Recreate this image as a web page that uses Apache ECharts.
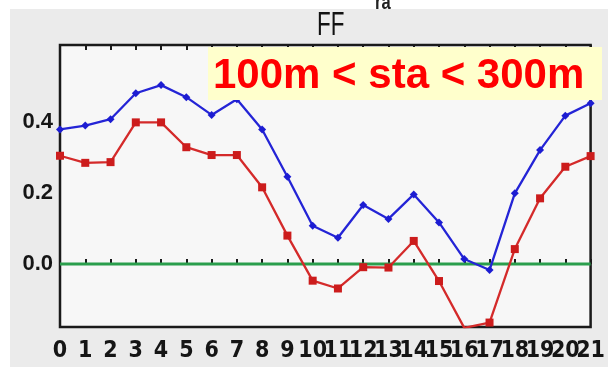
<!DOCTYPE html>
<html>
<head>
<meta charset="utf-8">
<script src="https://cdn.jsdelivr.net/npm/echarts@6/dist/echarts.min.js"></script>
<style>
html,body{margin:0;padding:0;background:#ffffff;}
#bg{position:absolute;left:10px;top:9px;right:0;bottom:0;background:#ebebeb;}
#chart{position:absolute;left:0;top:0;width:608px;height:367px;}
</style>
</head>
<body>
<div id="bg"></div>
<div id="chart"></div>
<script>
// ---- data ----
var hours = ['0','1','2','3','4','5','6','7','8','9','10','11','12','13','14','15','16','17','18','19','20','21'];
var blueSeries = [0.379, 0.390, 0.408, 0.481, 0.504, 0.470, 0.420, 0.464, 0.379, 0.246, 0.108, 0.074, 0.166, 0.127, 0.196, 0.117, 0.014, -0.017, 0.199, 0.321, 0.418, 0.453];
var redSeries = [0.305, 0.285, 0.287, 0.399, 0.399, 0.329, 0.307, 0.307, 0.216, 0.080, -0.047, -0.069, -0.009, -0.010, 0.065, -0.048, -0.180, -0.165, 0.042, 0.185, 0.274, 0.304];
var yTickValues = [0, 0.2, 0.4];
var refLevel = 0;
var titleText = 'FF';
var topCutText = 'ra';
var boxText = '100m < sta < 300m';

var chart = echarts.init(document.getElementById('chart'), null, {renderer: 'canvas'});
var option = {
  animation: false,
  backgroundColor: 'transparent',
  grid: {
    left: 60, right: 5, top: 45, bottom: 40,
    show: true, backgroundColor: '#f7f7f7', borderColor: '#1a1a1a', borderWidth: 2.5
  },
  xAxis: [{
    type: 'category', data: hours, boundaryGap: false, position: 'bottom',
    axisLine: {show: false},
    axisTick: {show: true, inside: true, length: 5, interval: 0, lineStyle: {color: '#1a1a1a', width: 2}},
    axisLabel: {interval: 0, margin: 13, color: '#151515', fontSize: 23, fontWeight: 'bold',
      fontFamily: '"Liberation Sans Narrow", "DejaVu Sans Condensed", "Liberation Sans", sans-serif'},
    splitLine: {show: false}
  }, {
    type: 'category', data: hours, boundaryGap: false, position: 'top',
    axisLine: {show: false},
    axisTick: {show: true, inside: true, length: 5, interval: 0, lineStyle: {color: '#1a1a1a', width: 2}},
    axisLabel: {show: false},
    splitLine: {show: false}
  }],
  yAxis: {
    type: 'value', min: -0.1775, max: 0.617,
    axisLine: {show: false},
    axisTick: {show: false},
    splitLine: {show: false},
    axisLabel: {
      customValues: yTickValues, margin: 7, color: '#151515', fontSize: 22, fontWeight: 'bold',
      fontFamily: '"Liberation Sans", Arial, sans-serif',
      formatter: function (v) { return v.toFixed(1); }
    }
  },
  series: [{
    name: 'ref', type: 'line', data: hours.map(function () { return refLevel; }),
    symbol: 'none', lineStyle: {color: '#2a9e4c', width: 3}, z: 1
  }, {
    name: 'blue', type: 'line', data: blueSeries,
    symbol: 'diamond', symbolSize: 8, showAllSymbol: true,
    itemStyle: {color: '#1c1cd2'}, lineStyle: {color: '#2424d6', width: 2.3}, z: 3
  }, {
    name: 'red', type: 'line', data: redSeries,
    symbol: 'rect', symbolSize: 8, showAllSymbol: true,
    itemStyle: {color: '#cc1c1c'}, lineStyle: {color: '#d42a2a', width: 2.3}, z: 2
  }],
  graphic: [{
    type: 'text', left: 317, top: 9, z: 10,
    scaleX: 0.68, scaleY: 1,
    style: {text: titleText, fontSize: 33, fontFamily: '"Liberation Sans", Arial, sans-serif', fill: '#111'}
  }, {
    type: 'text', x: 375, y: 14, z: 10,
    scaleX: 0.75,
    style: {text: topCutText, fontSize: 22, fontWeight: 'bold', fontFamily: '"Liberation Sans", Arial, sans-serif', fill: '#222', verticalAlign: 'bottom'}
  }, {
    type: 'rect', z: 100,
    shape: {x: 208, y: 47, width: 394, height: 53},
    style: {fill: '#ffffcc', stroke: null}
  }, {
    type: 'text', z: 101, x: 213, y: 76,
    style: {text: boxText, fontSize: 42, fontWeight: 'bold', fontFamily: '"Liberation Sans", Arial, sans-serif',
      fill: '#ff0000', verticalAlign: 'middle'}
  }]
};
chart.setOption(option);
</script>
</body>
</html>
